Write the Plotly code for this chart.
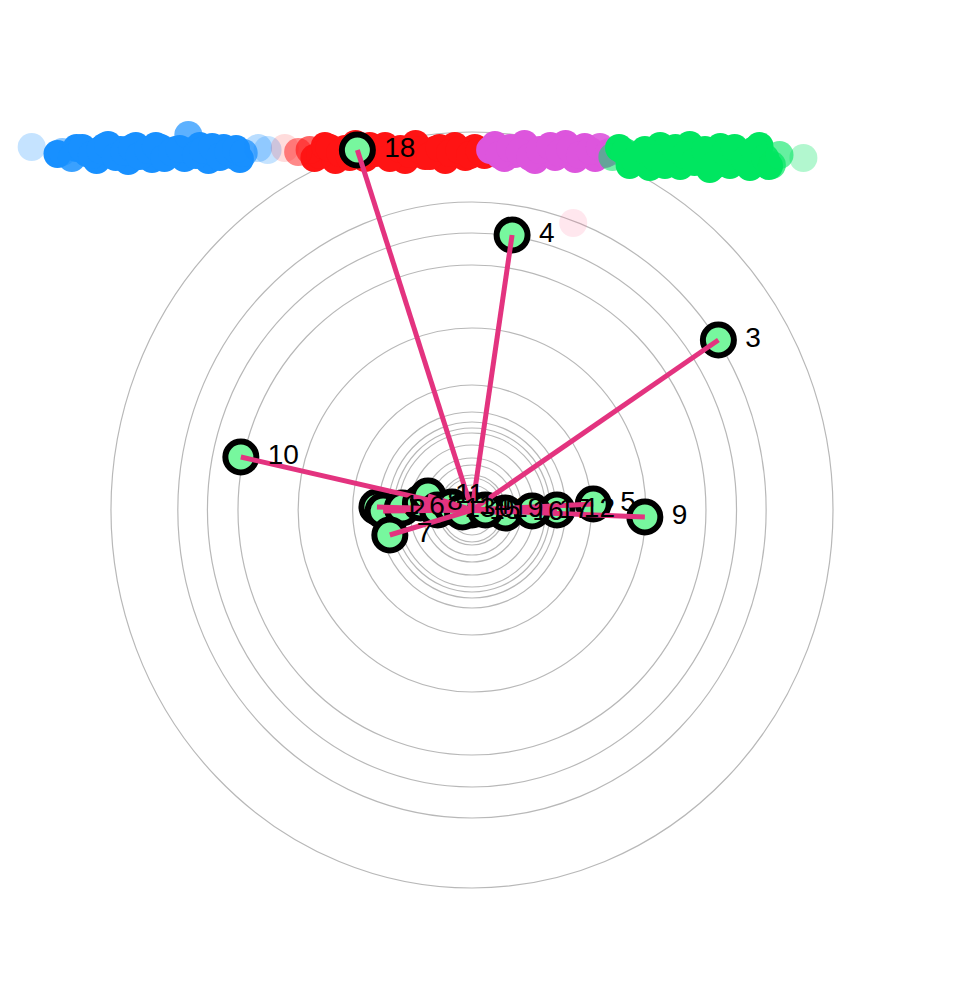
import plotly.graph_objects as go

# ---------------- data ----------------
ring_radii = [25, 32, 35, 45, 52, 65, 77, 82, 88, 98, 125, 182, 245, 277, 308, 378]

node_ids = [str(i) for i in range(20)]
node_x = [0, -99.5, -93, 258, 42, 127, -73, -86, -54, 181, -242, -46, 89, -36, -21, -10, 35, 63, -120, 14]
node_y = [0, 3, -1, 170, 275, 6, 2, -25, 7, -7, 53, 14, 0, 0, 3, -2, -3, -1, 360, 0]
hub = 0

blue_x = [-461, -429, -419, -408, -398, -389, -381, -373, -364, -356, -348, -339, -331,
          -322, -314, -306, -297, -289, -281, -272, -264, -255, -247, -239, -224, -214]
blue_y = [363, 358, 352, 362, 355, 360, 365, 353, 358, 362, 354, 360, 364,
          352, 358, 361, 375, 355, 360, 363, 353, 358, 361, 357, 362, 360]
blue_a = [0.25, 0.5, 0.85, 1, 1, 1, 1, 1, 1, 1, 1, 1, 1,
          1, 1, 1, 0.7, 1, 1, 1, 1, 1, 1, 0.7, 0.3, 0.25]
blue2_x = [-434, -414, -403, -393, -385, -377, -368, -360, -352, -343, -335, -326,
           -318, -310, -301, -293, -285, -276, -268, -260, -251, -243]
blue2_y = [356, 362, 357, 350, 363, 356, 360, 349, 364, 357, 351, 362,
           356, 360, 352, 359, 364, 350, 357, 362, 355, 351]

red_x = [-196, -182, -170, -159, -149, -138, -128, -117, -107, -96, -86, -75, -65,
         -54, -44, -34, -23, -13, -2, 8]
red_y = [362, 358, 360, 355, 362, 357, 353, 360, 364, 358, 352, 361, 356,
         360, 354, 362, 357, 360, 355, 359]
red_a = [0.15, 0.5, 0.65, 0.85, 1, 1, 1, 1, 1, 1, 1, 1, 1, 1, 1, 1, 1, 1, 1, 1]
red2_x = [-165, -154, -143, -133, -122, -112, -101, -91, -80, -70, -59, -49,
          -39, -28, -18, -7, 3, 13]
red2_y = [352, 364, 350, 361, 366, 352, 357, 364, 355, 350, 366, 354,
          360, 350, 364, 353, 362, 355]

mag_x = [19, 29, 40, 50, 61, 71, 82, 92, 103, 113, 124, 134, 144]
mag_y = [360, 355, 362, 358, 353, 360, 364, 357, 361, 355, 359, 363, 358]
mag_a = [1, 1, 1, 1, 1, 1, 1, 1, 1, 1, 1, 0.9, 0.7]
mag2_x = [24, 34, 45, 55, 66, 77, 87, 98, 108, 118, 129, 139]
mag2_y = [365, 352, 356, 366, 350, 357, 353, 366, 351, 363, 352, 356]

green_x = [147, 160, 171, 181, 192, 202, 213, 223, 233, 244, 254, 265, 275,
           286, 296, 307, 314, 322, 347]
green_y = [353, 358, 350, 360, 352, 345, 362, 355, 348, 360, 345, 358, 362,
           350, 360, 352, 345, 355, 352]
green_a = [0.55, 0.9, 1, 1, 1, 1, 1, 1, 1, 1, 1, 1, 1, 1, 1, 0.9, 0.7, 0.6, 0.3]
green2_x = [154, 165, 176, 186, 197, 207, 218, 228, 239, 249, 260, 270,
            281, 291, 301, 311]
green2_y = [362, 345, 356, 343, 364, 350, 344, 365, 352, 341, 363, 345,
            356, 343, 364, 344]

pink_x = [106]
pink_y = [287]
pink_a = [0.15]

# ---------------- figure ----------------
fig = go.Figure()

for r in ring_radii:
    fig.add_shape(type="circle", xref="x", yref="y", x0=-r, x1=r, y0=-r, y1=r,
                  line=dict(color="#B8B8B8", width=1.2), layer="below")

def band(xs, ys, alphas, color):
    fig.add_trace(go.Scatter(x=xs, y=ys, mode="markers", hoverinfo="skip",
                             marker=dict(size=28, color=color, opacity=alphas,
                                         line=dict(width=0))))

band(blue2_x, blue2_y, 1, "#1890FF")
band(blue_x, blue_y, blue_a, "#1890FF")
band(red2_x, red2_y, 1, "#FF1414")
band(red_x, red_y, red_a, "#FF1414")
band(mag2_x, mag2_y, 1, "#DD55DD")
band(mag_x, mag_y, mag_a, "#DD55DD")
band(green2_x, green2_y, 1, "#00E660")
band(green_x, green_y, green_a, "#00E660")
band(pink_x, pink_y, pink_a, "#FF5C8A")

# nodes (markers)
fig.add_trace(go.Scatter(x=node_x, y=node_y, mode="markers",
                         marker=dict(size=31, color="#77F79E",
                                     line=dict(color="black", width=6))))

# edges from hub
ex, ey = [], []
for i in range(len(node_x)):
    if i == hub:
        continue
    ex += [node_x[hub], node_x[i], None]
    ey += [node_y[hub], node_y[i], None]
fig.add_trace(go.Scatter(x=ex, y=ey, mode="lines",
                         line=dict(color="#E3337F", width=5), hoverinfo="skip"))

# labels
fig.add_trace(go.Scatter(x=node_x, y=node_y, mode="markers+text",
                         text=[" " + s for s in node_ids], textposition="middle right",
                         textfont=dict(family="Liberation Sans, Arial", size=28, color="black"),
                         marker=dict(size=29, opacity=0), hoverinfo="skip"))

fig.update_layout(
    width=944, height=977,
    margin=dict(l=0, r=0, t=0, b=0),
    paper_bgcolor="white", plot_bgcolor="white",
    showlegend=False,
    xaxis=dict(range=[-485.8, 502.6], visible=False, fixedrange=True),
    yaxis=dict(range=[-475, 502], visible=False, fixedrange=True),
)

fig.write_html("out.html")
